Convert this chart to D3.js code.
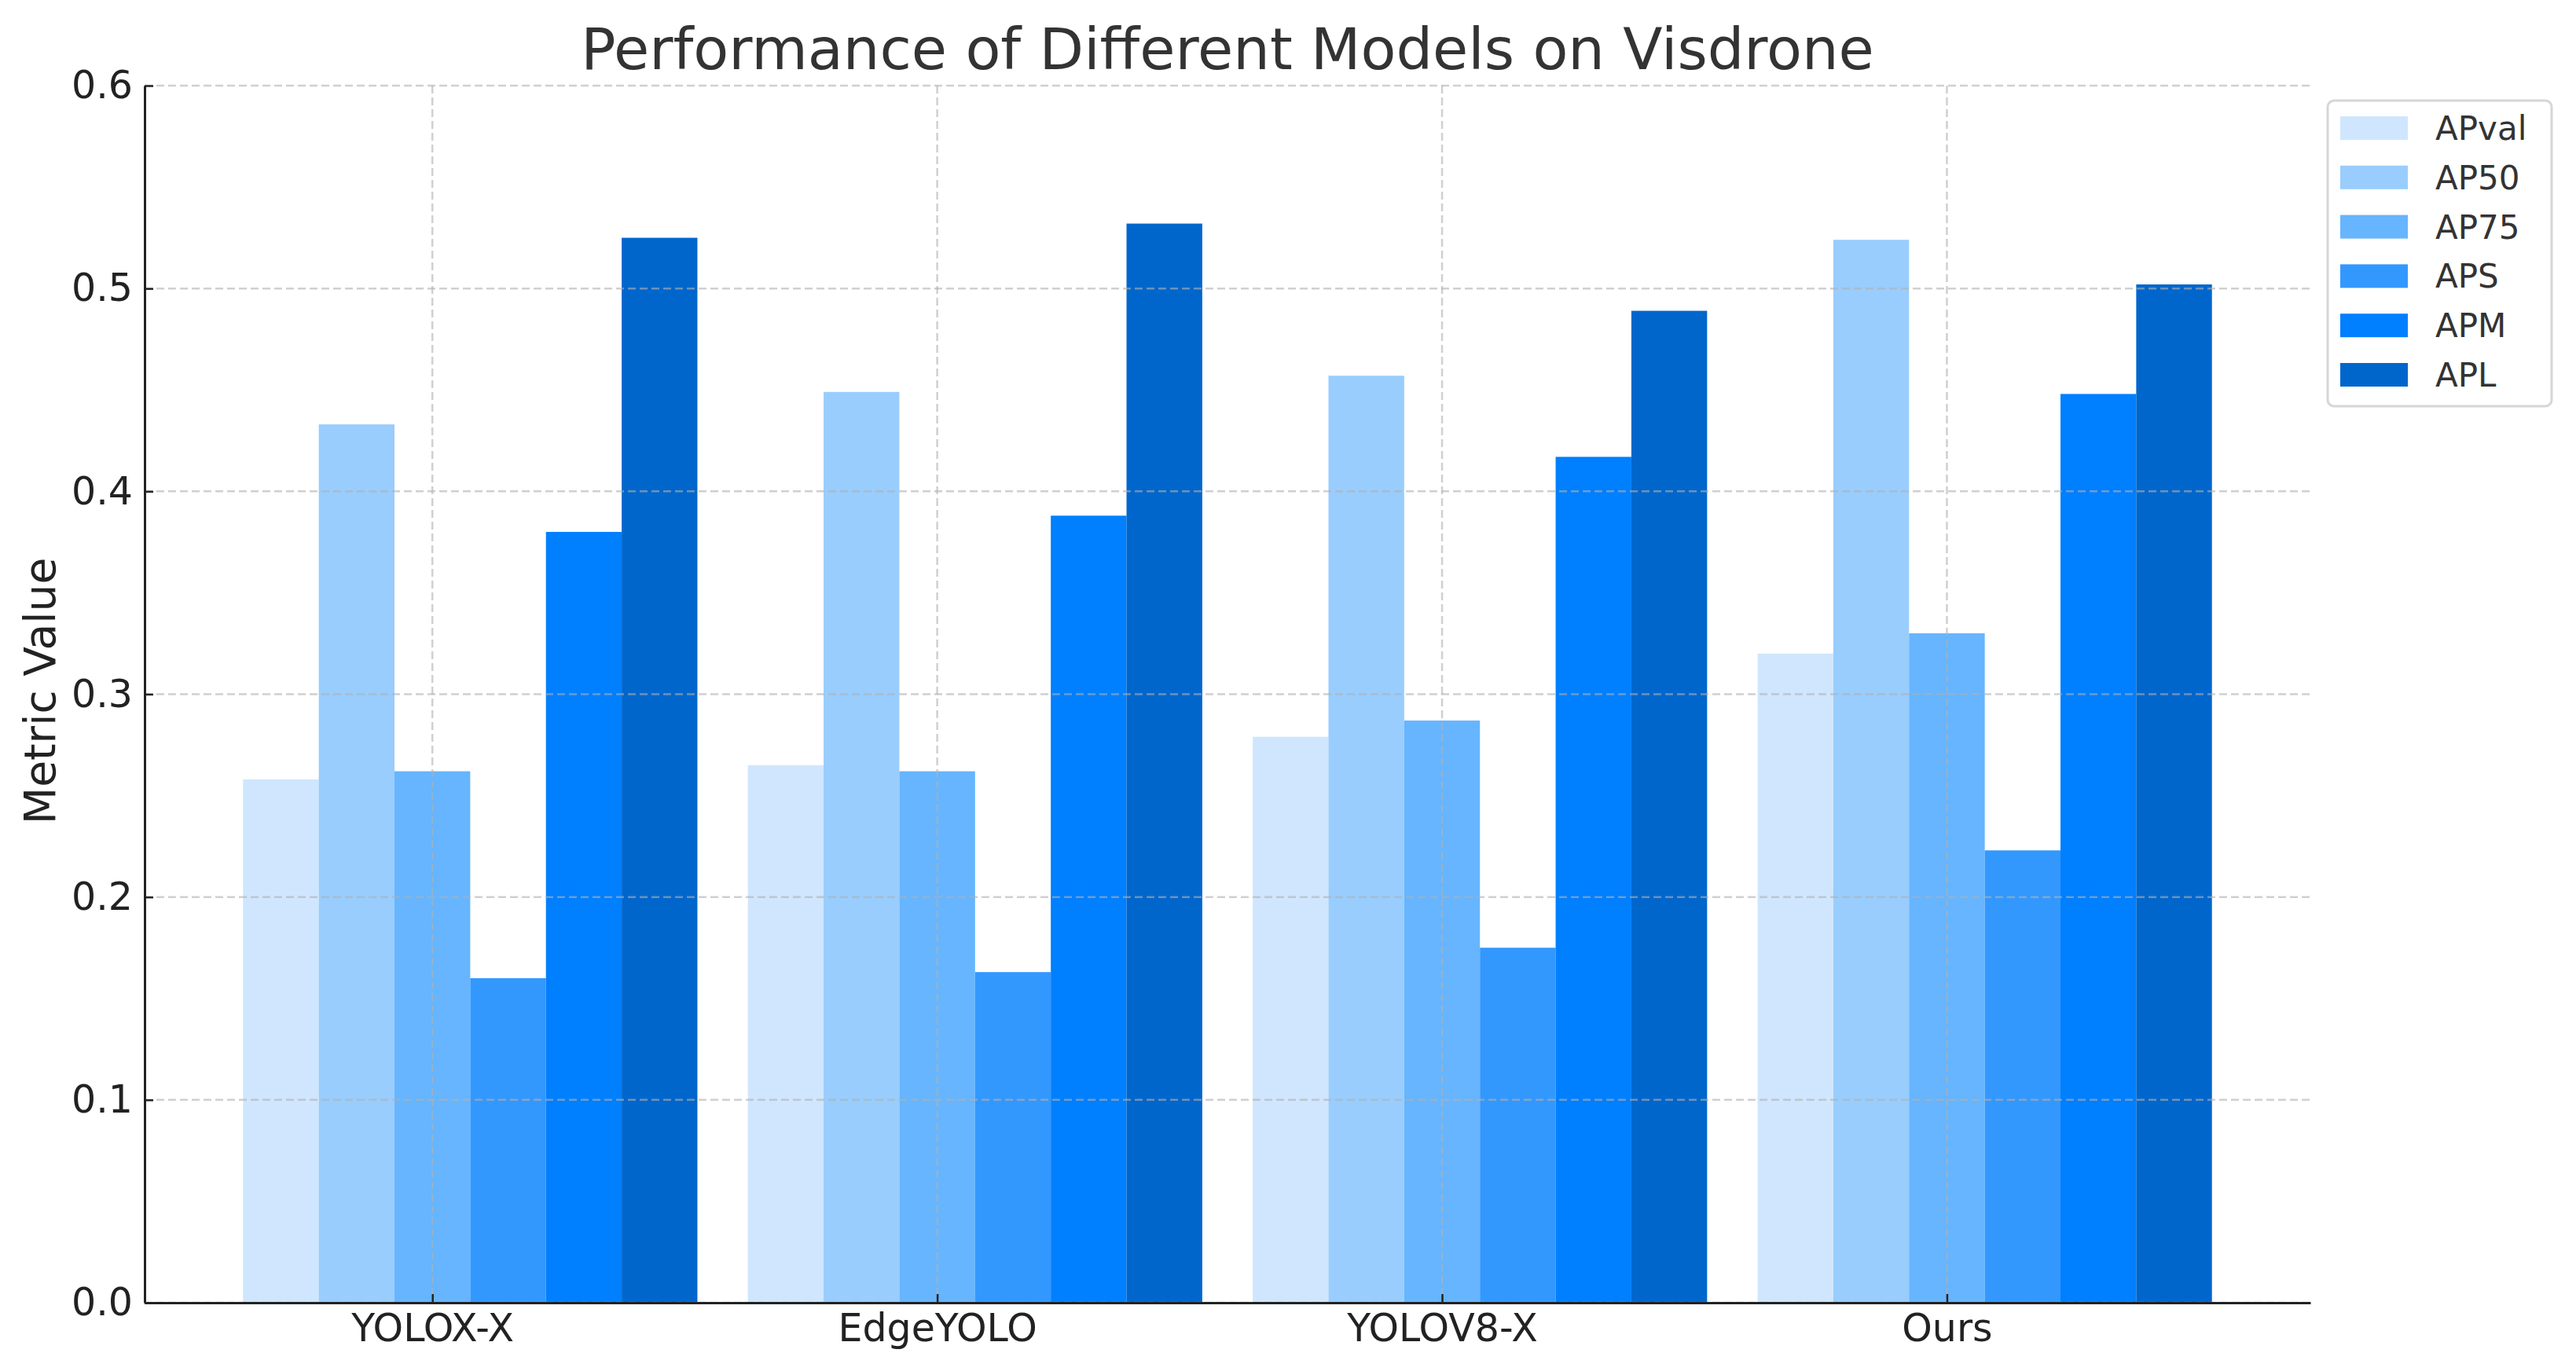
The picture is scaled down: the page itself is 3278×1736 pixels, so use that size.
<!DOCTYPE html>
<html lang="en">
<head>
<meta charset="UTF-8">
<title>Performance of Different Models on Visdrone</title>
<script src="https://d3js.org/d3.v7.min.js"></script>
<style>
  body { margin: 0; background: #fff; }
  text { font-family: "DejaVu Sans", sans-serif; }
</style>
</head>
<body>
<div id="chart"></div>
<script>
// data
var models = ["YOLOX-X", "EdgeYOLO", "YOLOV8-X", "Ours"];
var metrics = ["APval", "AP50", "AP75", "APS", "APM", "APL"];
var colors = ["#cfe6fe", "#99cdfd", "#66b5fe", "#3398fe", "#007ffe", "#0166cc"];
var APval = [0.258, 0.265, 0.279, 0.320];
var AP50  = [0.433, 0.449, 0.457, 0.524];
var AP75  = [0.262, 0.262, 0.287, 0.330];
var APS   = [0.160, 0.163, 0.175, 0.223];
var APM   = [0.380, 0.388, 0.417, 0.448];
var APL   = [0.525, 0.532, 0.489, 0.502];
var yTicks = [0.0, 0.1, 0.2, 0.3, 0.4, 0.5, 0.6];

var series = [APval, AP50, AP75, APS, APM, APL];
var barW = 0.15;

var W = 3278, H = 1736;
var margin = {top: 109, right: 338, bottom: 78, left: 184};
var width = W - margin.left - margin.right,
    height = H - margin.top - margin.bottom;

var svg = d3.select("#chart").append("svg")
    .attr("width", W).attr("height", H);

var g = svg.append("g")
    .attr("transform", "translate(" + margin.left + "," + margin.top + ")");

// x positions like matplotlib: tick at index, bars at index + (i-2)*w
var x = d3.scaleLinear().domain([-0.57, 3.72]).range([0, width]);
var y = d3.scaleLinear().domain([0, 0.6]).range([height, 0]);

// bars
series.forEach(function(vals, i) {
  g.selectAll(".bar" + i)
    .data(vals)
    .enter().append("rect")
      .attr("x", function(d, j) { return x(j + (i - 2) * barW - barW / 2); })
      .attr("y", function(d) { return y(d); })
      .attr("width", x(barW) - x(0))
      .attr("height", function(d) { return height - y(d); })
      .attr("fill", colors[i]);
});

// grid on top of bars
var grid = g.append("g");
grid.selectAll(".hg").data(yTicks).enter().append("line")
    .attr("x1", 0).attr("x2", width)
    .attr("y1", function(d) { return y(d); }).attr("y2", function(d) { return y(d); });
grid.selectAll(".vg").data(models).enter().append("line")
    .attr("y1", 0).attr("y2", height)
    .attr("x1", function(d, i) { return x(i); }).attr("x2", function(d, i) { return x(i); });
grid.selectAll("line")
    .attr("stroke", "#b0b0b0")
    .attr("stroke-opacity", 0.6)
    .attr("stroke-width", 2.5)
    .attr("stroke-dasharray", "10,5");

// axes
var yAxis = g.append("g")
    .call(d3.axisLeft(y).tickValues(yTicks).tickFormat(d3.format(".1f"))
      .tickSizeInner(-11).tickSizeOuter(0).tickPadding(15));
var xAxis = g.append("g")
    .attr("transform", "translate(0," + height + ")")
    .call(d3.axisBottom(x).tickValues(d3.range(models.length))
      .tickFormat(function(i) { return models[i]; })
      .tickSizeInner(-11).tickSizeOuter(0).tickPadding(14));

[xAxis, yAxis].forEach(function(a) {
  a.select(".domain").attr("stroke", "#222").attr("stroke-width", 3);
  a.selectAll(".tick line").attr("stroke", "#222").attr("stroke-width", 2.5);
  a.selectAll(".tick text")
    .attr("fill", "#222")
    .style("font-size", "49px")
    .style("font-family", "DejaVu Sans, sans-serif");
});

// title & labels
svg.append("text")
    .attr("x", margin.left + width / 2).attr("y", 88)
    .attr("text-anchor", "middle")
    .attr("fill", "#333")
    .style("font-size", "73.5px")
    .text("Performance of Different Models on Visdrone");

svg.append("text")
    .attr("transform", "translate(70," + (margin.top + height / 2 - 4) + ") rotate(-90)")
    .attr("text-anchor", "middle")
    .attr("fill", "#222")
    .style("font-size", "55px")
    .text("Metric Value");

// legend
var lg = svg.append("g").attr("transform", "translate(2962,128)");
lg.append("rect")
    .attr("width", 285).attr("height", 389)
    .attr("rx", 8)
    .attr("fill", "#fff").attr("fill-opacity", 0.8)
    .attr("stroke", "#d6d6d6").attr("stroke-width", 3);
var items = lg.selectAll(".item").data(metrics).enter().append("g")
    .attr("transform", function(d, i) { return "translate(16," + (35 + i * 62.8) + ")"; });
items.append("rect")
    .attr("y", -15).attr("width", 86).attr("height", 30)
    .attr("fill", function(d, i) { return colors[i]; });
items.append("text")
    .attr("x", 121).attr("y", 15)
    .attr("fill", "#333")
    .style("font-size", "42px")
    .text(function(d) { return d; });
</script>
</body>
</html>
